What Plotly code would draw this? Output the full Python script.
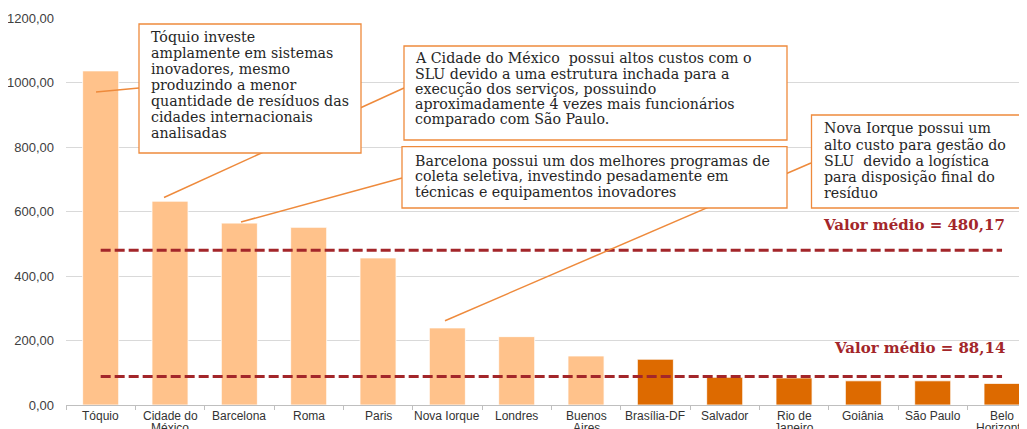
import plotly.graph_objects as go

cities = ["Tóquio", "Cidade do<br>México", "Barcelona", "Roma", "Paris", "Nova Iorque", "Londres",
          "Buenos<br>Aires", "Brasília-DF", "Salvador", "Rio de<br>Janeiro", "Goiânia", "São Paulo",
          "Belo<br>Horizonte"]
costs = [1036, 632, 564, 551, 456, 239, 212, 152, 142, 86, 84, 75, 75, 67]
group = ["int"] * 8 + ["br"] * 6
mean_int = 480.17
mean_br = 88.14
y_ticks = [0, 200, 400, 600, 800, 1000, 1200]

note_tokyo = ["Tóquio investe", "amplamente em sistemas", "inovadores, mesmo", "produzindo a menor",
              "quantidade de resíduos das", "cidades internacionais", "analisadas"]
note_mexico = ["A Cidade do México  possui altos custos com o", "SLU devido a uma estrutura inchada para a",
               "execução dos serviços, possuindo", "aproximadamente 4 vezes mais funcionários",
               "comparado com São Paulo."]
note_barcelona = ["Barcelona possui um dos melhores programas de", "coleta seletiva, investindo pesadamente em",
                  "técnicas e equipamentos inovadores"]
note_ny = ["Nova Iorque possui um", "alto custo para gestão do", "SLU  devido a logística",
           "para disposição final do", "resíduo"]

LIGHT = "#FFC28B"
DARK = "#DD6A00"
MEAN_C = "#A3262A"
BOX_C = "#EE8A3C"
SERIF = "DejaVu Serif"

# layout geometry (screen pixels; the page body adds an 8px offset)
OFF = 8
SCREEN_W, SCREEN_H = 1027, 429
W, H = SCREEN_W - OFF, SCREEN_H - OFF
PLOT_L, PLOT_T, PLOT_B = 66, 18, 405          # screen px
ML, MT, MB = PLOT_L - OFF, PLOT_T - OFF, SCREEN_H - PLOT_B
XMAX = 13.36
YMAX = 1200
plot_w = W - ML
plot_h = H - MT - MB
cat_px = plot_w / (XMAX + 0.5)


def px2x(px):
    return (px - PLOT_L) / cat_px - 0.5


def px2y(py):
    return (PLOT_B - py) * YMAX / plot_h


def px2paper_y(py):
    return (PLOT_B - py) / plot_h


colors = [LIGHT if g == "int" else DARK for g in group]

fig = go.Figure()
fig.add_trace(go.Bar(x=cities, y=costs, marker=dict(color=colors, line=dict(color="white", width=0.8)),
                     width=0.52, hoverinfo="skip"))
for m in (mean_int, mean_br):
    fig.add_trace(go.Scatter(x=[cities[0], cities[-1]], y=[m, m], mode="lines",
                             line=dict(color=MEAN_C, width=3, dash="10px,4px"), hoverinfo="skip"))

# category labels below the axis (tight two-line spacing as in the original)
for c in cities:
    for j, part in enumerate(c.split("<br>")):
        fig.add_annotation(x=c, y=px2paper_y(416 + j * 12), xref="x", yref="paper", text=part,
                           showarrow=False, xanchor="center", yanchor="middle",
                           font=dict(family="Liberation Sans", size=12, color="#333333"))

# callout lines (drawn first so boxes cover them)
lines_px = [((96, 92), (139, 88)), ((164, 197.5), (404, 88)),
            ((241, 222), (402, 178)), ((445, 320.7), (811, 163))]
for (a, b), (c, d) in lines_px:
    fig.add_shape(type="line", x0=px2x(a), y0=px2y(b), x1=px2x(c), y1=px2y(d), xref="x", yref="y",
                  line=dict(color=BOX_C, width=1.5), layer="above")

boxes_px = [(139, 24, 361, 153), (404, 46, 787, 140), (402, 146.7, 787, 208), (811.5, 115, 1020, 208)]
for x0, y0, x1, y1 in boxes_px:
    fig.add_shape(type="rect", x0=px2x(x0), y0=px2y(y0), x1=px2x(x1), y1=px2y(y1), xref="x", yref="y",
                  line=dict(color=BOX_C, width=1.3), fillcolor="white", layer="above")

notes = [(note_tokyo, 149, 36.7, 16.05), (note_mexico, 412.7, 58.3, 15.25),
         (note_barcelona, 413, 160.7, 15.5), (note_ny, 821.7, 128.3, 16.25)]
for lines, tx, ty0, sp in notes:
    for i, t in enumerate(lines):
        fig.add_annotation(x=px2x(tx), y=px2y(ty0 + i * sp), xref="x", yref="y", text=t,
                           showarrow=False, align="left", xanchor="left", yanchor="middle",
                           font=dict(family=SERIF, size=14.2, color="#262626"))

fig.add_annotation(x=px2x(1007), y=px2y(225), xref="x", yref="y",
                   text="<b>Valor médio = " + f"{mean_int:.2f}".replace(".", ",") + "</b>",
                   showarrow=False, xanchor="right", yanchor="middle",
                   font=dict(family=SERIF, size=15, color=MEAN_C))
fig.add_annotation(x=px2x(1007), y=px2y(347.5), xref="x", yref="y",
                   text="<b>Valor médio = " + f"{mean_br:.2f}".replace(".", ",") + "</b>",
                   showarrow=False, xanchor="right", yanchor="middle",
                   font=dict(family=SERIF, size=15, color=MEAN_C))

fig.update_layout(
    width=W, height=H,
    margin=dict(l=ML, r=0, t=MT, b=MB),
    plot_bgcolor="white", paper_bgcolor="white",
    showlegend=False,
    separators=",.",
    xaxis=dict(range=[-0.5, XMAX], type="category", showgrid=False, automargin=False,
               showline=True, linecolor="#BFBFBF", linewidth=1,
               ticks="outside", tickson="boundaries", ticklen=4, tickcolor="#BFBFBF",
               showticklabels=False, fixedrange=True),
    yaxis=dict(range=[0, YMAX], tickvals=y_ticks, tickformat=".2f", automargin=False,
               showgrid=True, gridcolor="#D9D9D9", gridwidth=1, zeroline=False,
               showline=False, ticklabelstandoff=11,
               tickfont=dict(family="Liberation Sans", size=13, color="#404040"),
               fixedrange=True),
)

fig.write_html("out.html")
